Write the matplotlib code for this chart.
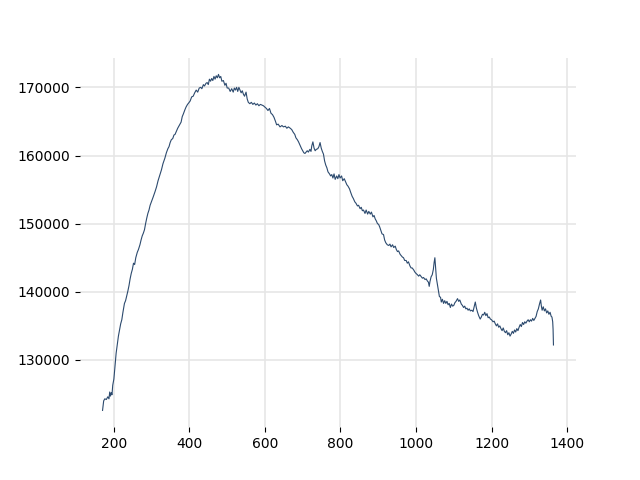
import matplotlib
matplotlib.use("Agg")
import matplotlib.pyplot as plt

# values
x_vals = [
    170, 173, 176, 180, 184, 187, 189, 191, 193, 195, 197, 200, 202, 204, 206, 209, 212, 215, 218, 221,
    224, 228, 231, 234, 237, 240, 243, 246, 249, 252, 255, 258, 262, 265, 269, 272, 275, 278, 281, 284,
    287, 290, 293, 296, 300, 304, 309, 313, 317, 322, 326, 330, 335, 339, 343, 346, 349, 352, 356, 359,
    362, 366, 369, 372, 375, 378, 381, 384, 388, 391, 395, 398, 402, 406, 410, 414, 418, 422, 426, 430,
    433, 437, 440, 444, 447, 450, 453, 456, 459, 462, 465, 468, 471, 474, 477, 480, 483, 486, 490, 494,
    497, 500, 504, 508, 512, 516, 519, 522, 525, 528, 531, 534, 537, 540, 543, 546, 550, 553, 556, 560,
    564, 568, 572, 576, 580, 584, 588, 592, 596, 600, 604, 608, 612, 616, 620, 624, 628, 631, 635, 640,
    645, 649, 654, 658, 662, 667, 671, 675, 679, 682, 686, 689, 693, 697, 700, 703, 706, 709, 712, 715,
    719, 722, 724, 727, 730, 733, 736, 740, 743, 746, 749, 752, 755, 758, 761, 764, 767, 771, 774, 777,
    780, 783, 786, 790, 793, 796, 799, 803, 806, 810, 813, 817, 820, 824, 827, 831, 834, 838, 841, 845,
    848, 852, 855, 858, 861, 865, 868, 872, 875, 879, 882, 886, 889, 892, 895, 898, 901, 904, 907, 910,
    914, 917, 920, 924, 928, 931, 934, 938, 941, 945, 948, 951, 954, 958, 961, 964, 967, 970, 974, 977,
    980, 984, 987, 990, 994, 997, 1000, 1004, 1007, 1010, 1014, 1017, 1020, 1024, 1027, 1030, 1033, 1035, 1037, 1040,
    1043, 1046, 1048, 1050, 1052, 1054, 1056, 1058, 1060, 1062, 1065, 1067, 1070, 1073, 1076, 1079, 1082, 1085, 1088, 1091,
    1094, 1097, 1100, 1103, 1106, 1110, 1113, 1116, 1120, 1123, 1126, 1129, 1132, 1135, 1138, 1141, 1144, 1148, 1151, 1154,
    1157, 1160, 1163, 1166, 1170, 1173, 1176, 1179, 1182, 1185, 1188, 1191, 1194, 1197, 1200, 1204, 1207, 1210, 1213, 1216,
    1219, 1222, 1225, 1228, 1231, 1234, 1237, 1240, 1243, 1246, 1249, 1252, 1255, 1258, 1261, 1264, 1267, 1270, 1273, 1276,
    1279, 1282, 1285, 1288, 1291, 1294, 1297, 1300, 1303, 1306, 1309, 1312, 1315, 1318, 1321, 1324, 1327, 1330, 1332, 1334,
    1337, 1340, 1343, 1346, 1349, 1352, 1355, 1358, 1360, 1362, 1363, 1364,
]
y_vals = [
    122600, 124000, 124300, 124200, 124600, 124300, 125300, 124700, 125200, 124900, 126300, 127200, 128500, 129800, 131000, 132300, 133500, 134400, 135300, 135900,
    137000, 138300, 138700, 139400, 140100, 140900, 141900, 142700, 143300, 144200, 144000, 145000, 145800, 146200, 146900, 147600, 148200, 148600, 149100, 150000,
    150800, 151500, 152000, 152700, 153300, 153900, 154700, 155400, 156300, 157200, 157900, 158800, 159600, 160400, 161000, 161300, 161900, 162300, 162500, 163000,
    163100, 163600, 164000, 164300, 164600, 164900, 165700, 166100, 166700, 167100, 167500, 167700, 168000, 168600, 168700, 169200, 169600, 169300, 169900, 170000,
    169800, 170400, 170200, 170600, 170700, 170400, 171200, 170900, 171300, 171000, 171600, 171200, 171700, 171400, 171900, 171400, 171600, 170900, 171000, 170300,
    170600, 169900, 169900, 169400, 169800, 169300, 169900, 169600, 170000, 169400, 170000, 169600, 169200, 169500, 169000, 168700, 169300, 168300, 167800, 167600,
    167800, 167500, 167700, 167400, 167600, 167300, 167500, 167400, 167300, 167100, 166900, 166600, 166900, 166200, 166000, 165600, 165000, 164500, 164600, 164200,
    164400, 164200, 164300, 164000, 164200, 164000, 163800, 163400, 163100, 162600, 162300, 162000, 161500, 161000, 160700, 160400, 160300, 160500, 160700, 160500,
    160900, 160600, 161400, 162000, 161100, 160700, 160900, 161000, 161300, 161900, 161100, 160600, 160200, 159200, 158600, 158200, 157600, 157300, 157000, 157200,
    156700, 157300, 156500, 157000, 156600, 157200, 156700, 157000, 156300, 156600, 156200, 155700, 155500, 155100, 154600, 154000, 153700, 153200, 153000, 152600,
    152700, 152200, 152400, 151900, 152000, 151500, 152000, 151400, 151800, 151400, 151700, 151000, 151200, 150700, 150400, 150000, 149900, 149500, 149000, 148500,
    148400, 147600, 147200, 146900, 146800, 147000, 146600, 146900, 146500, 146700, 146200, 145900, 146000, 145500, 145300, 145100, 145000, 144600, 144600, 144200,
    144400, 143800, 143500, 143500, 143200, 142900, 142700, 142500, 142300, 142500, 142200, 142000, 142100, 141800, 141900, 141600, 141400, 140800, 141500, 142200,
    142500, 143300, 144300, 145000, 143500, 142000, 141300, 140500, 139800, 139300, 139200, 138500, 138900, 138300, 138700, 138300, 138600, 138100, 138300, 137700,
    138200, 137900, 138000, 138400, 138600, 139000, 138600, 138800, 138200, 138000, 137700, 137900, 137500, 137600, 137300, 137500, 137200, 137300, 137100, 137800,
    138500, 137600, 137000, 136500, 136000, 136300, 136700, 136600, 137000, 136500, 136800, 136200, 136300, 136000, 135900, 135600, 135700, 135300, 135000, 135300,
    134800, 135000, 134600, 134300, 134700, 134200, 134000, 134300, 133700, 134000, 133500, 133800, 134200, 133900, 134400, 134100, 134600, 134300, 134800, 135200,
    134900, 135500, 135200, 135600, 135400, 135700, 135900, 135600, 135900, 135700, 136100, 135800, 136100, 136400, 137100, 137500, 138200, 138800, 137900, 137300,
    137800, 137200, 137500, 136900, 137200, 136700, 137000, 136400, 136300, 135600, 134500, 132200,
]

fig, ax = plt.subplots(figsize=(6.4, 4.8), dpi=100)
ax.plot(x_vals, y_vals, color="#2c4a6e", linewidth=0.8)
ax.grid(True, color="#e6e6e6", linewidth=1.2)
ax.set_axisbelow(True)
for s in ax.spines.values():
    s.set_visible(False)
ax.set_xticks([200, 400, 600, 800, 1000, 1200, 1400])
ax.set_yticks([130000, 140000, 150000, 160000, 170000])
plt.savefig("out.png")
